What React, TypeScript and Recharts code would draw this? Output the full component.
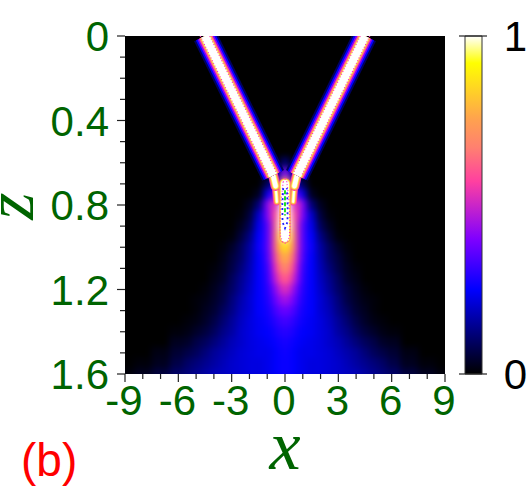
import React from 'react'
import { Bar, BarChart, ComposedChart, ReferenceArea, Scatter, XAxis, YAxis } from 'recharts'

const GREEN = '#006400'
const AXIS = '#222222'

// plot box in the page
const PLOT = { left: 125, top: 36, right: 445, bottom: 374 }
const PX_PER_X = (PLOT.right - PLOT.left) / 18
const PX_PER_Z = (PLOT.bottom - PLOT.top) / 1.6

const xTicks = [-9, -8, -7, -6, -5, -4, -3, -2, -1, 0, 1, 2, 3, 4, 5, 6, 7, 8, 9]
const xLabels = [-9, -6, -3, 0, 3, 6, 9]
const zTicks = [0, 0.1, 0.2, 0.3, 0.4, 0.5, 0.6, 0.7, 0.8, 0.9, 1, 1.1, 1.2, 1.3, 1.4, 1.5, 1.6]
const zLabels = [0, 0.4, 0.8, 1.2, 1.6]

// colour bar stops
const stopValues = [0, 0.25, 0.4, 0.57, 0.67, 0.75, 0.92, 1]
const stopColors = ['#000000', '#0000ff', '#8000ff', '#ff40a0', '#ff8070', '#ffa050', '#ffff00', '#ffffff']

// intensity in percent, x >= 0 half (the picture is mirror symmetric)
const heatX = [0, 0.25, 0.5, 0.75, 1, 1.5, 2, 2.5, 3, 3.5, 4, 4.5, 5, 5.5, 6, 7, 8, 9]
const heatZ = [0.6, 0.65, 0.7, 0.75, 0.8, 0.85, 0.9, 0.95, 1, 1.05, 1.1, 1.15, 1.2, 1.25, 1.3, 1.35, 1.4, 1.45, 1.5, 1.55, 1.6]
const heatRows = [
  [14, 6, 0, 0, 0, 0, 0, 0, 0, 0, 0, 0, 0, 0, 0, 0, 0, 0],
  [50, 30, 8, 0, 0, 0, 0, 0, 0, 0, 0, 0, 0, 0, 0, 0, 0, 0],
  [90, 60, 25, 15, 8, 0, 0, 0, 0, 0, 0, 0, 0, 0, 0, 0, 0, 0],
  [100, 80, 35, 35, 22, 3, 0, 0, 0, 0, 0, 0, 0, 0, 0, 0, 0, 0],
  [100, 100, 50, 55, 38, 12, 3, 0, 0, 0, 0, 0, 0, 0, 0, 0, 0, 0],
  [100, 100, 62, 52, 38, 20, 6, 1, 0, 0, 0, 0, 0, 0, 0, 0, 0, 0],
  [100, 100, 68, 48, 34, 23, 9, 3, 0, 0, 0, 0, 0, 0, 0, 0, 0, 0],
  [100, 95, 70, 48, 34, 25, 13, 6, 1, 0, 0, 0, 0, 0, 0, 0, 0, 0],
  [88, 82, 68, 48, 34, 26, 16, 9, 4, 1, 0, 0, 0, 0, 0, 0, 0, 0],
  [78, 74, 62, 46, 33, 25, 17, 10, 6, 2, 0, 0, 0, 0, 0, 0, 0, 0],
  [70, 66, 56, 43, 31, 25, 18, 12, 7, 3, 1, 0, 0, 0, 0, 0, 0, 0],
  [62, 59, 50, 41, 30, 25, 19, 14, 9, 4, 2, 0, 0, 0, 0, 0, 0, 0],
  [53, 50, 43, 36, 29, 25, 20, 15, 10, 6, 3, 1, 0, 0, 0, 0, 0, 0],
  [45, 43, 38, 33, 28, 25, 21, 17, 12, 7, 4, 2, 1, 0, 0, 0, 0, 0],
  [38, 36, 34, 30, 27, 25, 21, 18, 13, 9, 5, 3, 1, 0, 0, 0, 0, 0],
  [33, 32, 30, 28, 26, 24, 22, 19, 15, 11, 7, 4, 2, 1, 0, 0, 0, 0],
  [30, 29, 28, 26, 25, 24, 22, 20, 16, 13, 9, 6, 4, 2, 1, 0, 0, 0],
  [28, 27, 26, 25, 24, 23, 22, 20, 18, 15, 12, 9, 7, 4, 3, 0, 0, 0],
  [27, 26, 25, 24, 23, 23, 22, 21, 19, 17, 15, 12, 9, 7, 5, 2, 0, 0],
  [26, 26, 25, 24, 23, 22, 22, 21, 20, 18, 16, 14, 12, 10, 7, 3, 1, 0],
  [26, 26, 25, 24, 23, 22, 22, 21, 20, 19, 18, 16, 14, 12, 10, 6, 3, 1],
]

// the two beams, their narrow tails, the central spot and its contours
const beamX = [-4.5, -0.67]
const beamZ = [0, 0.66]
const beamEdgeLoX = [-4.77, -0.94]
const beamEdgeHiX = [-4.23, -0.4]
const tailAX = [-0.67, -0.53]
const tailAZ = [0.66, 0.71]
const tailBX = [-0.53, -0.49, -0.46]
const tailBZ = [0.71, 0.75, 0.785]
const spotX = [0, 0]
const spotZ = [0.7, 0.955]
const contourX = [-0.1, -0.2, -0.25, -0.28, -0.25, -0.12, 0, 0.12, 0.25, 0.28, 0.25, 0.2, 0.1, 0, -0.1]
const contourZ = [0.69, 0.76, 0.82, 0.9, 0.95, 0.975, 0.98, 0.975, 0.95, 0.9, 0.82, 0.76, 0.69, 0.67, 0.69]
const innerX = [-0.1, -0.15, -0.14, 0, 0.14, 0.15, 0.1]
const innerZ = [0.72, 0.8, 0.88, 0.91, 0.88, 0.8, 0.72]
const greenX = [0, 0]
const greenZ = [0.73, 0.85]

// stroke layers, widest first: around a white core of the given width
const haloGrow = [16, 12, 8.5, 5.5, 3.5, 1.5, 0]
const haloColors = ['#000060', '#0000ff', '#8000ff', '#ff40a0', '#ffa050', '#ffff60', '#ffffff']
const beamCore = 8.3
const tailACore = 4.5
const tailBCore = 2
const spotCore = 8

const pairs = (xs: number[], zs: number[], sign = 1) => xs.map((x, i) => ({ x: x * sign, z: zs[i] }))

const colorAt = (v: number) => {
  let i = 0
  while (i < stopValues.length - 2 && v > stopValues[i + 1]) i++
  const t = (v - stopValues[i]) / (stopValues[i + 1] - stopValues[i])
  const rgb = [1, 3, 5].map((p) => {
    const a = parseInt(stopColors[i].slice(p, p + 2), 16)
    const b = parseInt(stopColors[i + 1].slice(p, p + 2), 16)
    return Math.round(a + (b - a) * t)
  })
  return `rgb(${rgb.join(',')})`
}

const heatCells = heatZ.flatMap((z, r) =>
  heatX.flatMap((x, c) => {
    const lo = c === 0 ? 0 : (heatX[c - 1] + x) / 2
    const hi = c === heatX.length - 1 ? 9.5 : (heatX[c + 1] + x) / 2
    const v = heatRows[r][c] / 100
    if (v === 0) return []
    const right = { x: (lo + hi) / 2, z, w: hi - lo, v }
    const left = { x: -(lo + hi) / 2, z, w: hi - lo, v }
    return [left, right]
  }),
)

const HeatCell = (props: any) => {
  const { cx, cy, payload } = props
  const w = payload.w * PX_PER_X + 0.6
  const h = 0.05 * PX_PER_Z + 0.6
  return <rect x={cx - w / 2} y={cy - h / 2} width={w} height={h} fill={colorAt(payload.v)} />
}

const NoDot = () => null

const XTick = (side: 'top' | 'bottom') => (props: any) => {
  const { x, payload } = props
  const major = xLabels.includes(payload.value)
  const len = major ? 8 : 5
  const dir = side === 'bottom' ? 1 : -1
  return (
    <g>
      <line x1={x} x2={x} y1={PLOT[side]} y2={PLOT[side] + dir * len} stroke={AXIS} strokeWidth={1.2} />
      {side === 'bottom' && major && (
        <text x={x - 1} y={PLOT.bottom + 41} textAnchor="middle" fontFamily="Liberation Sans" fontSize={42} fill={GREEN}>
          {payload.value}
        </text>
      )}
    </g>
  )
}

const YTick = (side: 'left' | 'right') => (props: any) => {
  const { y, payload } = props
  const major = zLabels.includes(payload.value)
  const len = major ? 8 : 5
  const dir = side === 'right' ? 1 : -1
  return (
    <g>
      <line x1={PLOT[side]} x2={PLOT[side] + dir * len} y1={y} y2={y} stroke={AXIS} strokeWidth={1.2} />
      {side === 'left' && major && (
        <text x={109} y={y + 15} textAnchor="end" fontFamily="Liberation Sans" fontSize={42} fill={GREEN}>
          {payload.value}
        </text>
      )}
    </g>
  )
}

// from = first halo layer to draw, so the inner pieces do not paint a dark ring over the glow
const layerLines = (name: string, core: number, pts: { x: number; z: number }[], cap: 'butt' | 'round', from = 0) =>
  haloGrow.slice(from).map((grow, i) => (
    <Scatter
      key={`${name}-${i}`}
      className="glow"
      data={pts}
      dataKey="z"
      shape={NoDot}
      line={{ stroke: haloColors[i + from], strokeWidth: core + grow, strokeLinecap: cap, strokeLinejoin: 'round' }}
      isAnimationActive={false}
    />
  ))

const contourLine = (key: string, pts: { x: number; z: number }[], color: string, dash: string, w = 1.2) => (
  <Scatter
    key={key}
    data={pts}
    dataKey="z"
    shape={NoDot}
    line={{ stroke: color, strokeWidth: w, strokeDasharray: dash }}
    isAnimationActive={false}
  />
)

const barData = [{ name: 'scale', v: 1 }]

const BarTick = (props: any) => {
  const { y, payload } = props
  return (
    <g>
      <line x1={0} x2={28} y1={y} y2={y} stroke={AXIS} strokeWidth={1.2} />
      <text x={68} y={y + 15} textAnchor="end" fontFamily="Liberation Sans" fontSize={42} fill="#000">
        {payload.value}
      </text>
    </g>
  )
}

export default function App() {
  return (
    <div style={{ position: 'absolute', left: 0, top: 0, width: 527, height: 490, background: '#fff', overflow: 'hidden' }}>
      <style>{`.recharts-scatter{clip-path:url(#plotClip)}.heat{filter:url(#soft)}.glow{filter:url(#glow)}`}</style>
      <ComposedChart
        width={527}
        height={490}
        margin={{ top: PLOT.top - 1, left: PLOT.left - 1, right: 527 - PLOT.right - 1, bottom: 490 - PLOT.bottom - 1 }}
      >
        <defs>
          <filter id="soft" filterUnits="userSpaceOnUse" x="0" y="0" width="527" height="490" colorInterpolationFilters="sRGB">
            <feGaussianBlur stdDeviation="3" />
          </filter>
          <filter id="glow" filterUnits="userSpaceOnUse" x="0" y="0" width="527" height="490" colorInterpolationFilters="sRGB">
            <feGaussianBlur stdDeviation="0.7" />
          </filter>
          <clipPath id="plotClip">
            <rect x={PLOT.left} y={PLOT.top} width={PLOT.right - PLOT.left} height={PLOT.bottom - PLOT.top} />
          </clipPath>
        </defs>
        <XAxis type="number" dataKey="x" domain={[-9, 9]} ticks={xTicks} interval={0} height={1} axisLine={false} tickLine={false} tick={XTick('bottom')} />
        <XAxis xAxisId="top" orientation="top" type="number" dataKey="x" domain={[-9, 9]} ticks={xTicks} interval={0} height={1} axisLine={false} tickLine={false} tick={XTick('top')} />
        <YAxis type="number" dataKey="z" reversed domain={[0, 1.6]} ticks={zTicks} interval={0} width={1} axisLine={false} tickLine={false} tick={YTick('left')} />
        <YAxis yAxisId="right" orientation="right" type="number" dataKey="z" reversed domain={[0, 1.6]} ticks={zTicks} interval={0} width={1} axisLine={false} tickLine={false} tick={YTick('right')} />
        <ReferenceArea x1={-9} x2={9} y1={0} y2={1.6} fill="#000" fillOpacity={1} stroke="none" />
        <Scatter className="heat" data={heatCells} dataKey="z" shape={HeatCell} isAnimationActive={false} />
        {layerLines('tbl', tailBCore, pairs(tailBX, tailBZ), 'round', 3)}
        {layerLines('tbr', tailBCore, pairs(tailBX, tailBZ, -1), 'round', 3)}
        {layerLines('tal', tailACore, pairs(tailAX, tailAZ), 'round', 3)}
        {layerLines('tar', tailACore, pairs(tailAX, tailAZ, -1), 'round', 3)}
        {layerLines('bl', beamCore, pairs(beamX, beamZ), 'butt', 0)}
        {layerLines('br', beamCore, pairs(beamX, beamZ, -1), 'butt', 0)}
        {layerLines('spot', spotCore, pairs(spotX, spotZ), 'round', 4)}
        {contourLine('e0', pairs(beamEdgeLoX, beamZ), '#ff30c0', '1 2')}
        {contourLine('e1', pairs(beamEdgeHiX, beamZ), '#ff30c0', '1 2')}
        {contourLine('e2', pairs(beamEdgeLoX, beamZ, -1), '#ff30c0', '1 2')}
        {contourLine('e3', pairs(beamEdgeHiX, beamZ, -1), '#ff30c0', '1 2')}
        {contourLine('c0', pairs(contourX, contourZ), '#ff30c0', '1 2')}
        {contourLine('c1', pairs(innerX, innerZ), '#2020ff', '2 3', 1.8)}
        {contourLine('c2', pairs(greenX, greenZ), '#20e020', '4 2', 2)}
        <text x={285} y={469} textAnchor="middle" fontFamily="Liberation Serif" fontStyle="italic" fontSize={70} fill={GREEN}>x</text>
        <text transform="translate(33 206) rotate(-90)" textAnchor="middle" fontFamily="Liberation Serif" fontStyle="italic" fontSize={70} fill={GREEN}>z</text>
        <text x={21} y={476} fontFamily="Liberation Sans" fontSize={46} fill="#ff0000">(b)</text>
      </ComposedChart>
      <div style={{ position: 'absolute', left: 459, top: 16 }}>
        <BarChart width={68} height={374} data={barData} barCategoryGap={0} margin={{ top: 20, bottom: 16, left: 5, right: 45 }}>
          <defs>
            <linearGradient id="cbar" x1="0" y1="1" x2="0" y2="0">
              {stopValues.map((v, i) => (
                <stop key={v} offset={v} stopColor={stopColors[i]} />
              ))}
            </linearGradient>
          </defs>
          <XAxis dataKey="name" hide />
          <YAxis type="number" domain={[0, 1]} ticks={[0, 1]} width={1} axisLine={false} tickLine={false} tick={BarTick} />
          <Bar dataKey="v" fill="url(#cbar)" stroke="#333" strokeWidth={1} isAnimationActive={false} />
        </BarChart>
      </div>
    </div>
  )
}
